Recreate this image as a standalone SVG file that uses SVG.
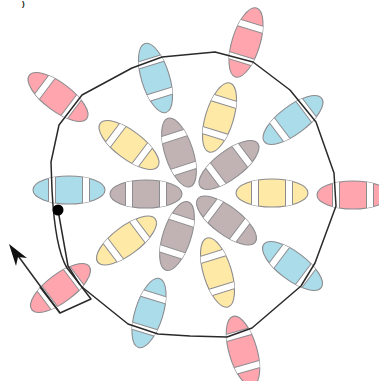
<svg xmlns="http://www.w3.org/2000/svg" width="379" height="381" viewBox="0 0 379 381">
<defs>
<clipPath id="c"><ellipse rx="36" ry="14"/></clipPath>
<g id="o"><ellipse rx="36" ry="14"/><g clip-path="url(#c)"><rect class="b" x="-20.500" y="-16" width="7" height="32"/><rect class="b" x="13.500" y="-16" width="7" height="32"/></g></g>
</defs>
<style>
.r{fill:#ffa5ad}.u{fill:#abdcea}.y{fill:#fee9a6}.g{fill:#c1b3b3}
ellipse{stroke:#8c8c90;stroke-width:1.1}
.b{fill:#fff;stroke:#8c8c90;stroke-width:1}
.l{fill:none;stroke:#2a2a2a;stroke-width:1.5;stroke-linejoin:round}
</style>
<text x="22" y="6" font-family="Liberation Sans, sans-serif" font-size="8" font-weight="bold" fill="#111">)</text>
<g id="n1" class="r"><use href="#o" transform="translate(58 97) rotate(37)"/></g>
<g id="n2" class="u"><use href="#o" transform="translate(155.500 78) rotate(73)"/></g>
<g id="n3" class="r"><use href="#o" transform="translate(246 42.500) rotate(-73)"/></g>
<g id="n4" class="u"><use href="#o" transform="translate(293 120) rotate(-37)"/></g>
<g id="n5" class="r"><use href="#o" transform="translate(353 195)"/></g>
<g id="n6" class="u"><use href="#o" transform="translate(292.500 266) rotate(37)"/></g>
<g id="n7" class="r"><use href="#o" transform="translate(243 351) rotate(74)"/></g>
<g id="n8" class="u"><use href="#o" transform="translate(149 313) rotate(-73)"/></g>
<g id="n9" class="r"><use href="#o" transform="translate(60.500 288) rotate(-37)"/></g>
<g id="n10" class="u"><use href="#o" transform="translate(69 190)"/></g>
<g id="n11" class="y"><use href="#o" transform="translate(129 145) rotate(37)"/></g>
<g id="n12" class="y"><use href="#o" transform="translate(219.500 117.500) rotate(-73)"/></g>
<g id="n13" class="y"><use href="#o" transform="translate(272 193)"/></g>
<g id="n14" class="y"><use href="#o" transform="translate(217.500 272.500) rotate(73)"/></g>
<g id="n15" class="y"><use href="#o" transform="translate(126.500 240.500) rotate(-37)"/></g>
<g id="n16" class="g"><use href="#o" transform="translate(146 194)"/></g>
<g id="n17" class="g"><use href="#o" transform="translate(179 152.500) rotate(72)"/></g>
<g id="n18" class="g"><use href="#o" transform="translate(229 165) rotate(-37)"/></g>
<g id="n19" class="g"><use href="#o" transform="translate(226.500 220.500) rotate(37)"/></g>
<g id="n20" class="g"><use href="#o" transform="translate(177 236) rotate(-72)"/></g>
<g id="connectors">
<path class="l" d="M52 190L51 162L59 125L82 95L132 68L162 57L215 52L253 62L290 90L316 122L334 173L336 206L315 263L301 286L252 328L227 337L190 336L158 334L128 324L82 287L67 268Q55 248 52 190"/>
<path class="l" d="M58 210L68 266L80 285"/>
<path class="l" d="M40 287L60 313L91 299L81 286"/>
<path class="l" d="M60 313L16 253"/>
<path d="M9 244L27 258L18 257L16 266Z" fill="#111"/>
<circle cx="58" cy="210" r="5.500" fill="#000"/>
</g>
</svg>
